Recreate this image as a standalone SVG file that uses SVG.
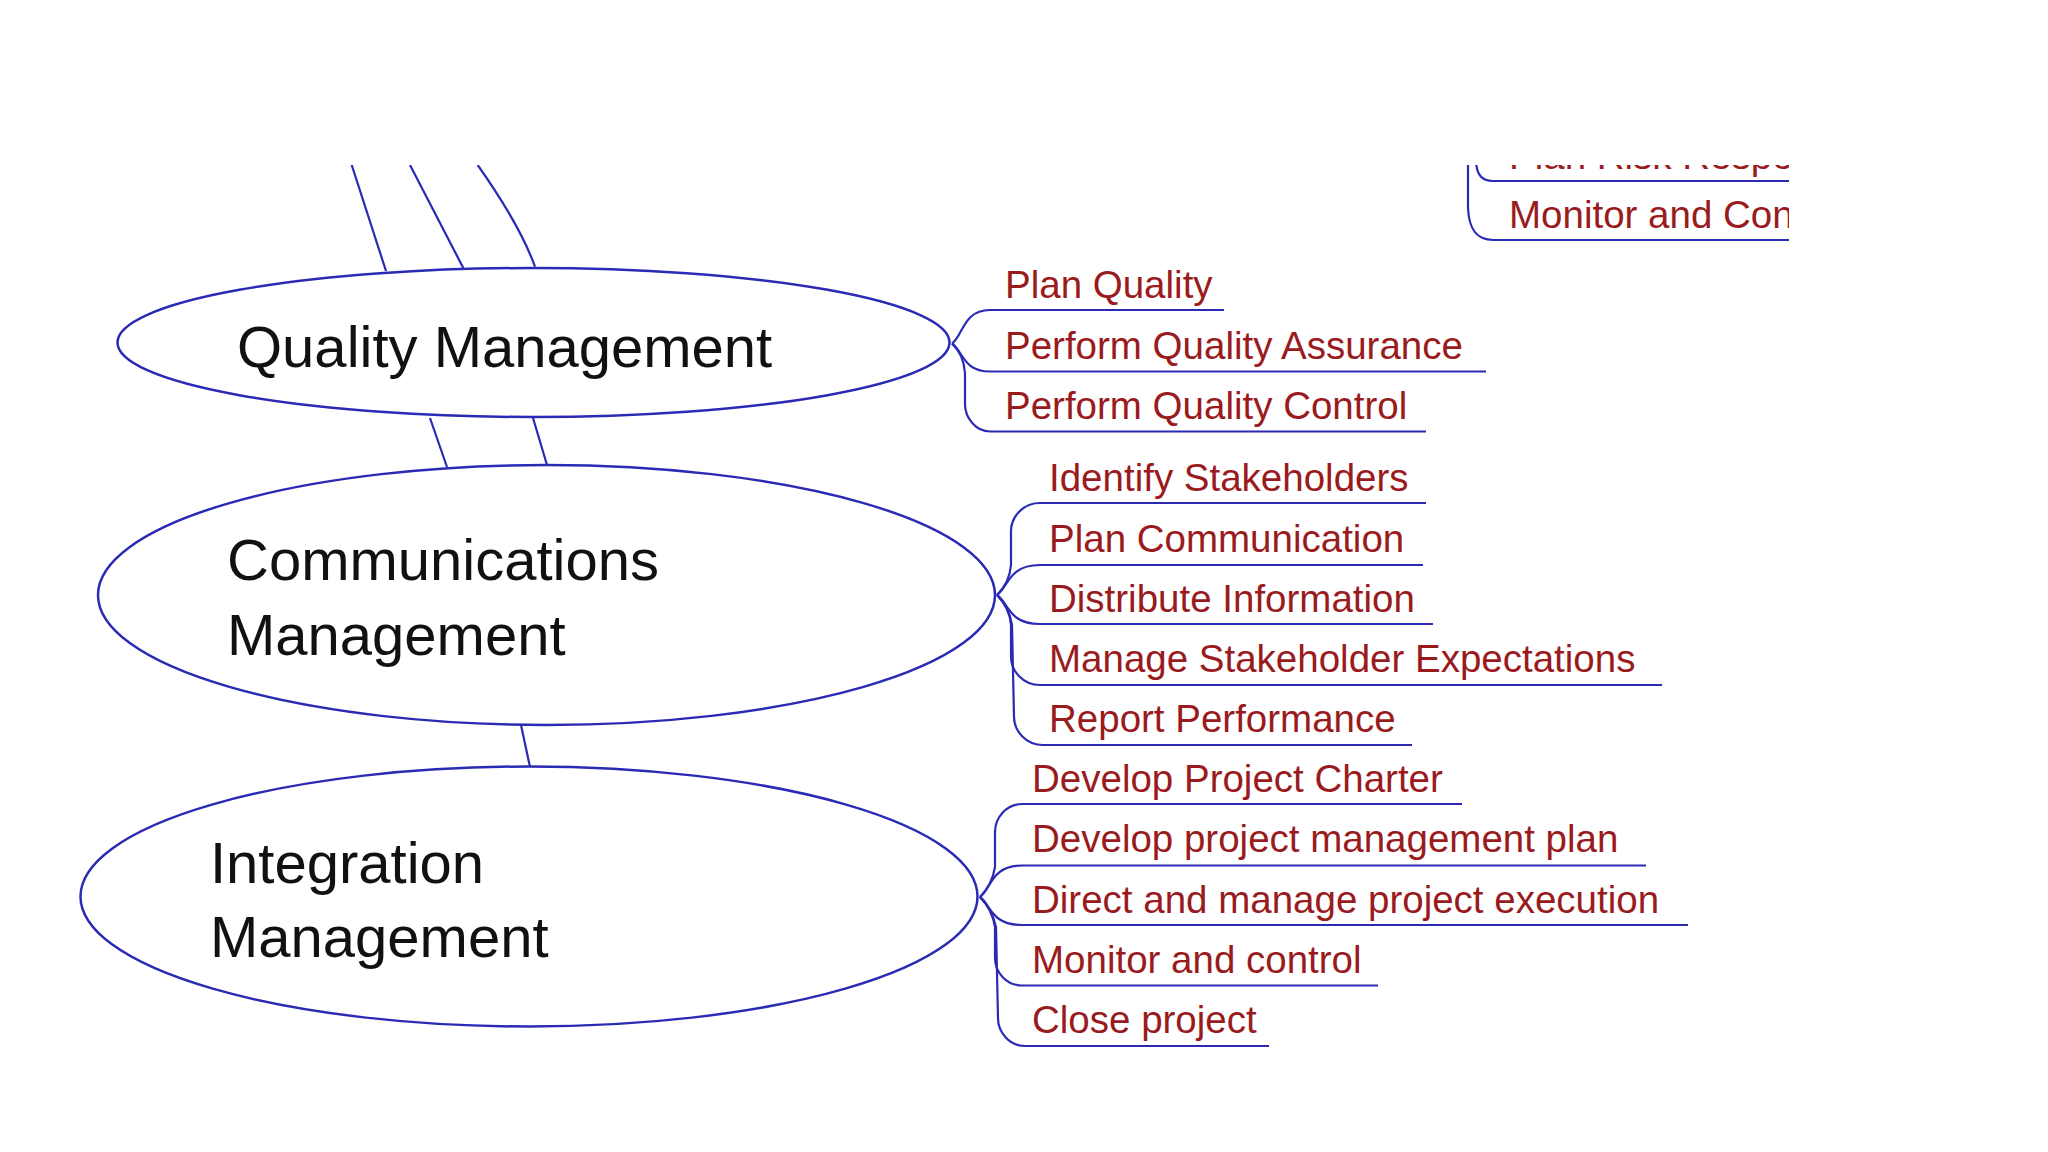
<svg xmlns="http://www.w3.org/2000/svg" width="2048" height="1152" viewBox="0 0 2048 1152">
<style>
.ell{fill:#ffffff;stroke:#2a2ab4;stroke-width:2.5}
.ln{fill:none;stroke:#2a2ab4;stroke-width:2.2}
.hd{font-family:"Liberation Sans",Arial,sans-serif;font-size:58px;fill:#111111}
.it{font-family:"Liberation Sans",Arial,sans-serif;font-size:38.5px;fill:#9a1b1e}
</style>
<defs>
<clipPath id="view"><rect x="0" y="165" width="1789" height="987"/></clipPath>
</defs>
<rect width="2048" height="1152" fill="#ffffff"/>
<g clip-path="url(#view)">
<g id="connectors">
<path class="ln" d="M351.7,165 L386,271"/>
<path class="ln" d="M410,165 L463.3,268"/>
<path class="ln" d="M477.7,165 Q520,225 535,266.7"/>
<path class="ln" d="M430,418 L447,467"/>
<path class="ln" d="M533,418 L547,465"/>
<path class="ln" d="M521,725 L530,767"/>
<!-- quality branches -->
<path class="ln" d="M952,343.5 C963,336 963,310 990,310 L1224,310"/>
<path class="ln" d="M952,343.5 C963,351 963,371.5 990,371.5 L1486,371.5"/>
<path class="ln" d="M952,343.5 C959,350 964,360 965,373 L965,404 C965,418 976,431.5 990,431.5 L1426,431.5"/>
<!-- communications branches -->
<path class="ln" d="M997,595 C1004,588 1010,578 1011,565 L1011,531 C1011,517 1023,503 1040,503 L1426,503"/>
<path class="ln" d="M997,595 C1008,588 1008,565 1040,565 L1423,565"/>
<path class="ln" d="M997,595 C1008,602 1008,624 1040,624 L1433,624"/>
<path class="ln" d="M997,595 C1004,602 1010,612 1011,625 L1011,657 C1011,671 1023,685 1040,685 L1662,685"/>
<path class="ln" d="M997,595 C1004,602 1010,612 1012,625 L1014,717 C1014,731 1026,745 1043,745 L1412,745"/>
<!-- integration branches -->
<path class="ln" d="M980,897 C987,890 993,880 995,867 L995,832 C995,818 1006,804 1022,804 L1462,804"/>
<path class="ln" d="M980,897 C991,889 991,865.5 1022,865.5 L1646,865.5"/>
<path class="ln" d="M980,897 C991,905 991,925 1022,925 L1688,925"/>
<path class="ln" d="M980,897 C987,904 993,914 995,927 L995,958 C995,972 1006,985.5 1022,985.5 L1378,985.5"/>
<path class="ln" d="M980,897 C987,904 993,914 996,927 L998,1018 C998,1032 1009,1046 1025,1046 L1269,1046"/>
<!-- top-right partial branches -->
<path class="ln" d="M1476,150 L1476,162 C1477,174 1481,181 1493,181 L1789,181"/>
<path class="ln" d="M1468,150 L1468,208 C1469,230 1477,240 1493,240 L1789,240"/>
</g>
<g id="node-quality">
<ellipse class="ell" cx="533.5" cy="342.5" rx="416" ry="74.5"/>
<text class="hd" x="237" y="367">Quality Management</text>
</g>
<g id="node-communications">
<ellipse class="ell" cx="546.5" cy="595" rx="448.5" ry="130"/>
<text class="hd" x="227" y="580">Communications</text>
<text class="hd" x="227" y="655">Management</text>
</g>
<g id="node-integration">
<ellipse class="ell" cx="529" cy="896.5" rx="448.5" ry="130"/>
<text class="hd" x="210" y="883">Integration</text>
<text class="hd" x="210" y="957">Management</text>
</g>
<g id="items-quality">
<text class="it" x="1005" y="298">Plan Quality</text>
<text class="it" x="1005" y="358.5">Perform Quality Assurance</text>
<text class="it" x="1005" y="419">Perform Quality Control</text>
</g>
<g id="items-communications">
<text class="it" x="1049" y="491">Identify Stakeholders</text>
<text class="it" x="1049" y="552">Plan Communication</text>
<text class="it" x="1049" y="612">Distribute Information</text>
<text class="it" x="1049" y="672">Manage Stakeholder Expectations</text>
<text class="it" x="1049" y="732">Report Performance</text>
</g>
<g id="items-integration">
<text class="it" x="1032" y="792">Develop Project Charter</text>
<text class="it" x="1032" y="852">Develop project management plan</text>
<text class="it" x="1032" y="912.5">Direct and manage project execution</text>
<text class="it" x="1032" y="973">Monitor and control</text>
<text class="it" x="1032" y="1033">Close project</text>
</g>
<g id="items-risk">
<text class="it" x="1509" y="169">Plan Risk Respo</text>
<text class="it" x="1509" y="228">Monitor and Con</text>
</g>
</g>
</svg>
